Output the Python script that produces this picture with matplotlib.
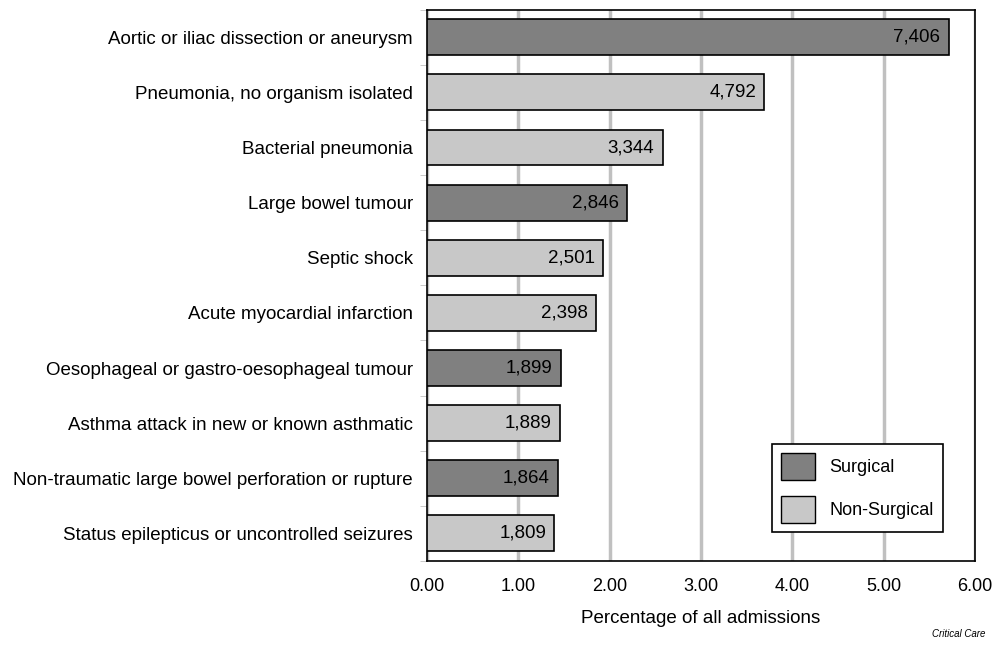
import numpy as np
import matplotlib
matplotlib.use('Agg')
import matplotlib.pyplot as plt
from matplotlib.patches import Patch

plt.rcParams['font.family'] = ['Liberation Sans', 'DejaVu Sans']

categories = [
    'Aortic or iliac dissection or aneurysm',
    'Pneumonia, no organism isolated',
    'Bacterial pneumonia',
    'Large bowel tumour',
    'Septic shock',
    'Acute myocardial infarction',
    'Oesophageal or gastro-oesophageal tumour',
    'Asthma attack in new or known asthmatic',
    'Non-traumatic large bowel perforation or rupture',
    'Status epilepticus or uncontrolled seizures',
]
percentages = [5.71, 3.695, 2.58, 2.195, 1.93, 1.85, 1.465, 1.455, 1.435, 1.395]
counts = [7406, 4792, 3344, 2846, 2501, 2398, 1899, 1889, 1864, 1809]
surgical = [True, False, False, True, False, False, True, False, True, False]

dark = '#808080'
light = '#c8c8c8'

fig = plt.figure(figsize=(10, 6.47), dpi=100)
ax = fig.add_axes([0.427, 0.133, 0.548, 0.852])

y = np.arange(len(categories))
colors = [dark if s else light for s in surgical]
ax.barh(y, percentages, height=0.65, color=colors, edgecolor='black', linewidth=1.2, zorder=3)

for yi, p, c in zip(y, percentages, counts):
    ax.text(p - 0.09, yi, f'{c:,}', ha='right', va='center', fontsize=13.5, zorder=4)

ax.set_xlim(0, 6)
ax.set_ylim(len(categories) - 0.5, -0.5)
ax.set_xticks(np.arange(0, 7, 1))
ax.set_xticklabels([f'{v:.2f}' for v in np.arange(0, 7, 1)], fontsize=13)
ax.set_yticks(y)
ax.set_yticklabels(categories, fontsize=13.5, va='center_baseline')
ax.set_yticks(np.arange(-0.5, len(categories), 1), minor=True)
ax.tick_params(axis='y', which='major', length=0, pad=10)
ax.tick_params(axis='y', which='minor', length=5, color='#c0c0c0')
ax.tick_params(axis='x', length=0, pad=12)

ax.xaxis.grid(True, color='#c0c0c0', linewidth=2.5, zorder=0)
ax.set_axisbelow(True)
for s in ax.spines.values():
    s.set_linewidth(1.2)
    s.set_color('black')

ax.set_xlabel('Percentage of all admissions', fontsize=13.5, labelpad=11)

handles = [Patch(facecolor=dark, edgecolor='black', label='Surgical'),
           Patch(facecolor=light, edgecolor='black', label='Non-Surgical')]
leg = ax.legend(handles=handles, loc='lower right', bbox_to_anchor=(0.9416, 0.0526),
                borderaxespad=0, fontsize=13, frameon=True, fancybox=False,
                edgecolor='black', handlelength=1.9, handleheight=1.9,
                labelspacing=0.9, borderpad=0.5, handletextpad=0.8)
leg.get_frame().set_linewidth(1.2)
leg.get_frame().set_alpha(1)

fig.text(0.985, 0.012, 'Critical Care', ha='right', va='bottom', fontsize=7, style='italic')

fig.savefig('out.png', dpi=100)
